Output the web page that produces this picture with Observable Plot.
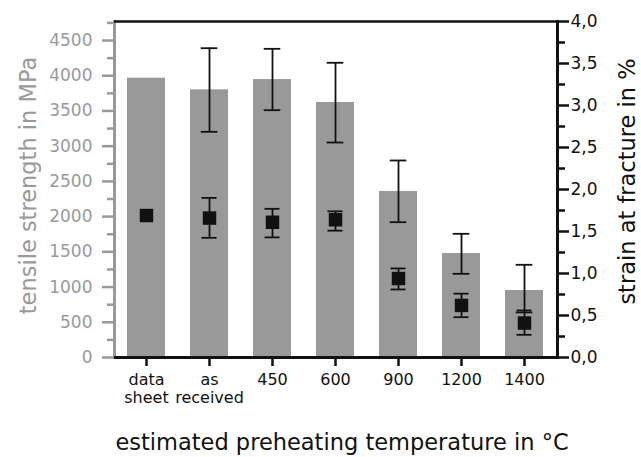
<!DOCTYPE html>
<html>
<head>
<meta charset="utf-8">
<script src="https://cdn.jsdelivr.net/npm/d3@7"></script>
<script src="https://cdn.jsdelivr.net/npm/@observablehq/plot@0.6"></script>
<style>
  html, body { margin: 0; padding: 0; background: #fff; }
</style>
</head>
<body>
<div id="chart"></div>
<script>
// ---- data ----
const categories = ["data\nsheet", "as\nreceived", "450", "600", "900", "1200", "1400"];
const tensile    = [3965, 3800, 3946, 3620, 2357, 1476, 951];     // MPa
const tensileHi  = [null, 4391, 4382, 4184, 2797, 1756, 1316];
const tensileLo  = [null, 3204, 3511, 3052, 1921, 1188, 640];
const strain     = [1.69, 1.66, 1.61, 1.64, 0.94, 0.62, 0.41];    // %
const strainHi   = [null, 1.90, 1.77, 1.74, 1.06, 0.76, 0.56];
const strainLo   = [null, 1.425, 1.43, 1.51, 0.81, 0.48, 0.27];
const leftTicks  = [0, 500, 1000, 1500, 2000, 2500, 3000, 3500, 4000, 4500];
const leftMinor  = [250, 750, 1250, 1750, 2250, 2750, 3250, 3750, 4250, 4750];
const rightTicks = [0, 0.5, 1.0, 1.5, 2.0, 2.5, 3.0, 3.5, 4.0];
const rightMinor = [0.25, 0.75, 1.25, 1.75, 2.25, 2.75, 3.25, 3.75];
const yMax = 4770;           // MPa at top of frame
const strainMax = 4.0;       // % at top of frame

// ---- build ----
const k = yMax / strainMax;
const rows = categories.map((c, i) => ({
  c, ts: tensile[i], tsHi: tensileHi[i], tsLo: tensileLo[i],
  st: strain[i], stHi: strainHi[i], stLo: strainLo[i]
}));
const tsErr = rows.filter(d => d.tsHi != null);
const stErr = rows.filter(d => d.stHi != null);
const grey = "#999999";
const ink = "#111111";

const chart = Plot.plot({
  width: 641,
  height: 457,
  marginLeft: 114,
  marginRight: 84,
  marginTop: 21,
  marginBottom: 100,
  style: {fontFamily: "'DejaVu Sans', sans-serif", fontSize: "17px", background: "white", overflow: "visible"},
  x: {type: "band", domain: categories, paddingInner: 0.39, paddingOuter: 0.195, axis: null},
  y: {domain: [0, yMax], axis: null},
  marks: [
    Plot.barY(rows, {x: "c", y: "ts", fill: grey}),
    // left axis (grey)
    Plot.frame({anchor: "left", stroke: grey, strokeWidth: 3}),
    Plot.axisY(leftMinor, {anchor: "left", tickSize: 7, tickFormat: () => "", color: grey, strokeWidth: 2.5, label: null}),
    Plot.axisY(leftTicks, {anchor: "left", tickSize: 12, tickPadding: 10, color: grey, strokeWidth: 2.5, fontSize: 17, label: null,
      tickFormat: v => String(v)}),
    // right axis (black)
    Plot.frame({anchor: "right", stroke: ink, strokeWidth: 3}),
    Plot.axisY(rightMinor.map(v => v * k), {anchor: "right", tickSize: 7, tickFormat: () => "", color: ink, strokeWidth: 2.5, label: null}),
    Plot.axisY(rightTicks.map(v => v * k), {anchor: "right", tickSize: 11, tickPadding: 2, color: ink, strokeWidth: 2.5, fontSize: 17, label: null,
      tickFormat: v => (v / k).toFixed(1).replace(".", ",")}),
    // top & bottom lines
    Plot.ruleY([yMax], {stroke: ink, strokeWidth: 2.5}),
    Plot.ruleY([0], {stroke: ink, strokeWidth: 3}),
    // x axis
    Plot.axisX({anchor: "bottom", tickSize: 9, tickPadding: 6, color: ink, strokeWidth: 2.5, fontSize: 16, lineHeight: 1.1, label: null}),
    // tensile error bars
    Plot.ruleX(tsErr, {x: "c", y1: "tsLo", y2: "tsHi", stroke: ink, strokeWidth: 1.8}),
    Plot.tickY(tsErr, {x: "c", y: "tsHi", stroke: ink, strokeWidth: 1.8, insetLeft: 10.7, insetRight: 10.7}),
    Plot.tickY(tsErr, {x: "c", y: "tsLo", stroke: ink, strokeWidth: 1.8, insetLeft: 10.7, insetRight: 10.7}),
    // strain error bars
    Plot.ruleX(stErr, {x: "c", y1: d => d.stLo * k, y2: d => d.stHi * k, stroke: ink, strokeWidth: 1.8}),
    Plot.tickY(stErr, {x: "c", y: d => d.stHi * k, stroke: ink, strokeWidth: 1.8, insetLeft: 11.5, insetRight: 11.5}),
    Plot.tickY(stErr, {x: "c", y: d => d.stLo * k, stroke: ink, strokeWidth: 1.8, insetLeft: 11.5, insetRight: 11.5}),
    // strain points
    Plot.dot(rows, {x: "c", y: d => d.st * k, symbol: "square", r: 7.6, fill: ink, stroke: null}),
    // titles
    Plot.text(["tensile strength in MPa"], {text: d => d, frameAnchor: "left", textAnchor: "middle", dx: -86, dy: -4, rotate: -90, fontSize: 22.5, fill: grey}),
    Plot.text(["strain at fracture in %"], {text: d => d, frameAnchor: "right", textAnchor: "middle", dx: 70, dy: -8, rotate: -90, fontSize: 22.5, fill: ink}),
    Plot.text(["estimated preheating temperature in °C"], {text: d => d, frameAnchor: "bottom", dx: 6, dy: 92, fontSize: 22.5, fill: ink})
  ]
});
document.getElementById("chart").append(chart);
</script>
</body>
</html>
